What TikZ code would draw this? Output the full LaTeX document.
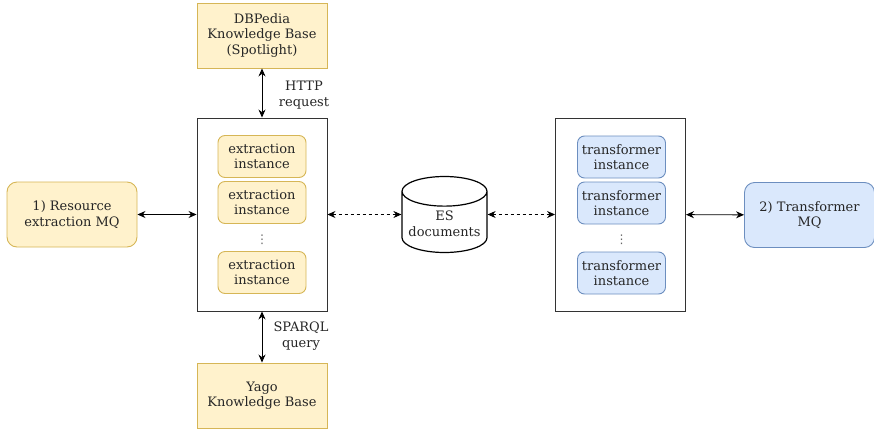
\documentclass[tikz,border=0pt]{standalone}
\usepackage{fontspec}
\setmainfont{DejaVu Serif}
\newfontfamily\dotsfont{DejaVu Sans}
\usetikzlibrary{arrows.meta, positioning, shapes.geometric}
\definecolor{yfill}{HTML}{FFF2CC}
\definecolor{ydraw}{HTML}{D6B656}
\definecolor{bfill}{HTML}{DAE8FC}
\definecolor{bdraw}{HTML}{6C8EBF}
\tikzset{
    {Stealth[length=8pt,width=7pt]}-{Stealth[length=8pt,width=7pt]}, semithick,
    every node/.style = {font=\fontsize{13}{15.5}\selectfont, text=black!85, align=center},
    kbase/.style = {rectangle, draw=ydraw, fill=yfill, minimum width=130, minimum height=65},
    mq/.style = {rectangle, rounded corners=10pt, minimum width=130, minimum height=65},
    inst/.style = {rectangle, rounded corners=7pt, minimum width=88, minimum height=42, inner sep=1pt},
    pool/.style = {rectangle, draw=black!80, minimum width=130, minimum height=193},
    store/.style = {cylinder, draw, line width=1.2pt, shape border rotate=90, aspect=0.4,
                    anchor=shape center, minimum width=85, minimum height=76, inner sep=1pt},
    vdot/.style = {font=\dotsfont\fontsize{12}{12}\selectfont, text=black!60, inner sep=0pt},
    el/.style = {inner sep=2pt}
    }

\begin{document}
\begin{tikzpicture}[
      x = 1pt, y = -1pt, % pixel grid
      line width = 0.9pt
    ]
    \useasboundingbox (0,0) rectangle (874,431);

    \node[kbase] (1) at (262,35.5) {DBPedia\\Knowledge Base\\(Spotlight)};
    \node[pool] (2) at (262,214.5) {};
    \node[kbase] (3) at (262,395.5) {Yago\\Knowledge Base};

    \node[inst, draw=ydraw, fill=yfill] (4) at (262,156.5) {extraction\\instance};
    \node[inst, draw=ydraw, fill=yfill] (5) at (262,202.5) {extraction\\instance};
    \node[vdot] (6) at (262,239.5) {⋮};
    \node[inst, draw=ydraw, fill=yfill] (7) at (262,272.5) {extraction\\instance};

    \node[mq, draw=ydraw, fill=yfill] (8) at (72,214.5) {1) Resource\\extraction MQ};

    \node[store] (9) at (444.5,214.5) {ES\\documents};

    \node[pool] (10) at (620.5,214.5) {};
    \node[inst, draw=bdraw, fill=bfill] (11) at (621.5,157) {transformer\\instance};
    \node[inst, draw=bdraw, fill=bfill] (12) at (621.5,203) {transformer\\instance};
    \node[vdot] (13) at (621.5,239.5) {⋮};
    \node[inst, draw=bdraw, fill=bfill] (14) at (621.5,273) {transformer\\instance};

    \node[mq, draw=bdraw, fill=bfill] (15) at (809.5,215) {2) Transformer\\MQ};

    \node[el] (16) at (304,95) {HTTP\\request};
    \node[el] (17) at (301,336) {SPARQL\\query};

    \path (1) edge (2);
    \path (2) edge (3);
    \path (8) edge (2);
    \path (10) edge (15);

    \path[dash pattern=on 3pt off 3pt] (2.east |- 9.shape center) edge (9.west |- 9.shape center);
    \path[dash pattern=on 3pt off 3pt] (9.east |- 9.shape center) edge (10.west |- 9.shape center);
\end{tikzpicture}
\end{document}
